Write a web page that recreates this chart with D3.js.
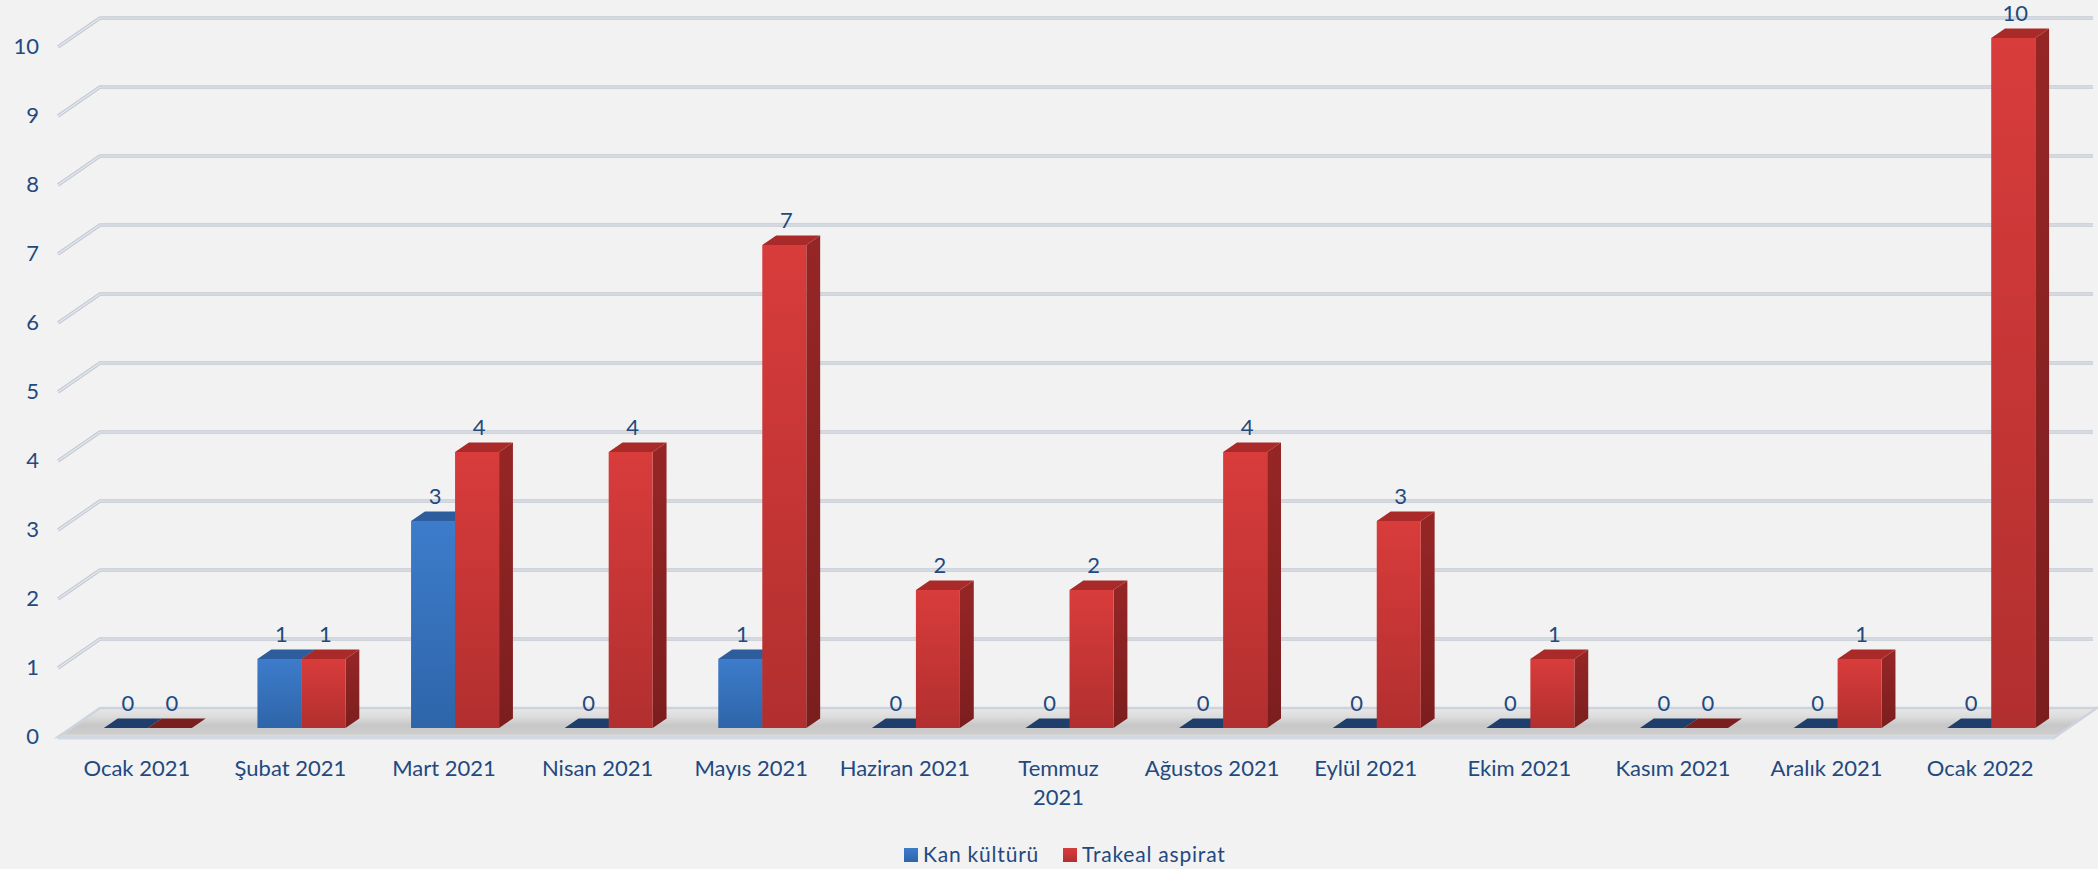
<!DOCTYPE html>
<html>
<head>
<meta charset="utf-8">
<script src="https://cdn.jsdelivr.net/npm/d3@7"></script>
<style>
  html, body { margin: 0; padding: 0; background: #f2f2f2; }
  svg { display: block; }
  text { font-family: Lato, "Open Sans", sans-serif; fill: #23497e; }
</style>
</head>
<body>
<svg id="chart" width="2098" height="869"></svg>
<script>
// Monthly counts per sample type
const categories = [
  ["Ocak 2021"], ["Şubat 2021"], ["Mart 2021"], ["Nisan 2021"], ["Mayıs 2021"],
  ["Haziran 2021"], ["Temmuz", "2021"], ["Ağustos 2021"], ["Eylül 2021"],
  ["Ekim 2021"], ["Kasım 2021"], ["Aralık 2021"], ["Ocak 2022"]
];
const seriesNames = ["Kan kültürü", "Trakeal aspirat"];
const kanKulturu     = [0, 1, 3, 0, 1, 0, 0, 0, 0, 0, 0, 0, 0];
const trakealAspirat = [0, 1, 4, 4, 7, 2, 2, 4, 3, 1, 0, 1, 10];
const yTicks = [0, 1, 2, 3, 4, 5, 6, 7, 8, 9, 10];

const svg = d3.select("#chart");

// Front plane of the 3D box and its depth offset
const left = 58, right = 2055, floorY = 737, topY = 47;
const DX = 42, DY = -29;
// bars occupy a slice of the depth
const f1 = 0.31, f2 = 0.64;

const catKeys = categories.map(c => c.join(" "));
const x = d3.scaleBand().domain(catKeys).range([left, right]).padding(0);
const bw = x.bandwidth();
const inner = d3.scaleBand().domain(seriesNames).range([bw * 0.2135, bw * 0.7865]).padding(0);
const y = d3.scaleLinear().domain([0, 10]).range([floorY, topY]);

const defs = svg.append("defs");
function grad(id, stops, x2, y2) {
  const g = defs.append("linearGradient").attr("id", id)
    .attr("x1", 0).attr("y1", 0).attr("x2", x2).attr("y2", y2);
  stops.forEach(s => g.append("stop").attr("offset", s[0]).attr("stop-color", s[1]));
}
grad("floorG", [[0, "#e8e8e8"], [0.3, "#dcdcdc"], [0.6, "#c7c7c7"], [0.88, "#cdcdcd"], [1, "#e6e6e6"]], 0, 1);
grad("blueFront", [[0, "#3d7ccb"], [1, "#2e65a9"]], 0, 1);
grad("redFront", [[0, "#d83c3b"], [1, "#b22f2f"]], 0, 1);
grad("blueSide", [[0, "#2a5994"], [1, "#214a7d"]], 0, 1);
grad("redSide", [[0, "#962626"], [1, "#7c1e1e"]], 0, 1);

const g = svg.append("g");

// Floor slab
const floorPts = [[left, floorY], [right, floorY], [right + DX, floorY + DY], [left + DX, floorY + DY]];
g.append("polygon")
  .attr("points", floorPts.map(p => p.join(",")).join(" "))
  .attr("fill", "url(#floorG)")
  .attr("stroke", "#cdd4de").attr("stroke-width", 2.5);
g.append("line")
  .attr("x1", left).attr("x2", right).attr("y1", floorY + 1).attr("y2", floorY + 1)
  .attr("stroke", "#d3d9e2").attr("stroke-width", 3);

// Gridlines on back wall with the left wall diagonals
const grid = g.append("g");
yTicks.filter(v => v > 0).forEach(v => {
  const yf = y(v), yb = y(v) + DY;
  const path = `M${left},${yf}L${left + DX},${yb}L${right + DX - 4},${yb}`;
  grid.append("path").attr("d", path).attr("fill", "none")
    .attr("stroke", "#c4cad4").attr("stroke-width", 3.5).attr("stroke-linejoin", "round");
  grid.append("path").attr("d", path).attr("fill", "none")
    .attr("stroke", "#e6e9ee").attr("stroke-width", 1.2).attr("stroke-linejoin", "round");
});

// Y tick labels
g.append("g").selectAll("text").data(yTicks).join("text")
  .attr("x", 39).attr("y", d => y(d) + 7)
  .attr("text-anchor", "end")
  .attr("font-size", 22)
  .text(d => d);

// Bars
const data = [];
catKeys.forEach((c, i) => {
  data.push({ cat: c, s: seriesNames[0], v: kanKulturu[i] });
  data.push({ cat: c, s: seriesNames[1], v: trakealAspirat[i] });
});
const colors = {
  "Kan kültürü": { front: "url(#blueFront)", side: "url(#blueSide)", top: "#2d5d9c", flat: "#1f3e6c" },
  "Trakeal aspirat": { front: "url(#redFront)", side: "url(#redSide)", top: "#a92a29", flat: "#7a1f1f" }
};
const bars = g.append("g");
const dx1 = DX * f1, dy1 = DY * f1, dx2 = DX * f2, dy2 = DY * f2;
data.forEach(d => {
  const x0 = x(d.cat) + inner(d.s) + dx1;
  const x1 = x0 + inner.bandwidth();
  const yb = y(0) + dy1;
  const yt = y(d.v) + dy1;
  const ddx = dx2 - dx1, ddy = dy2 - dy1;
  const c = colors[d.s];
  if (d.v === 0) {
    bars.append("polygon")
      .attr("points", [[x0, yb], [x1, yb], [x1 + ddx, yb + ddy], [x0 + ddx, yb + ddy]].map(p => p.join(",")).join(" "))
      .attr("fill", c.flat);
  } else {
    // side
    bars.append("polygon")
      .attr("points", [[x1, yt], [x1 + ddx, yt + ddy], [x1 + ddx, yb + ddy], [x1, yb]].map(p => p.join(",")).join(" "))
      .attr("fill", c.side);
    // top
    bars.append("polygon")
      .attr("points", [[x0, yt], [x1, yt], [x1 + ddx, yt + ddy], [x0 + ddx, yt + ddy]].map(p => p.join(",")).join(" "))
      .attr("fill", c.top);
    // front
    bars.append("rect")
      .attr("x", x0).attr("y", yt).attr("width", x1 - x0).attr("height", yb - yt)
      .attr("fill", c.front);
  }
  // value label
  bars.append("text")
    .attr("x", (x0 + x1) / 2 + 2)
    .attr("y", yt + ddy - 7)
    .attr("text-anchor", "middle")
    .attr("font-size", 22)
    .text(d.v);
});

// Category labels
const catG = g.append("g");
categories.forEach((lines, i) => {
  const cx = x(catKeys[i]) + bw / 2 + 2;
  const t = catG.append("text")
    .attr("x", cx)
    .attr("y", 776)
    .attr("text-anchor", "middle")
    .attr("font-size", 22);
  lines.forEach((ln, k) => {
    t.append("tspan").attr("x", cx).attr("dy", k === 0 ? 0 : 29).text(ln);
  });
});

// Legend
const legend = svg.append("g");
const legendItems = [
  { name: seriesNames[0], fill: "url(#blueFront)", x: 904 },
  { name: seriesNames[1], fill: "url(#redFront)", x: 1063 }
];
legendItems.forEach(it => {
  legend.append("rect").attr("x", it.x).attr("y", 848).attr("width", 14).attr("height", 14).attr("fill", it.fill);
  legend.append("text").attr("x", it.x + 19).attr("y", 862).attr("font-size", 21)
    .attr("letter-spacing", 0.8).text(it.name);
});
</script>
</body>
</html>
